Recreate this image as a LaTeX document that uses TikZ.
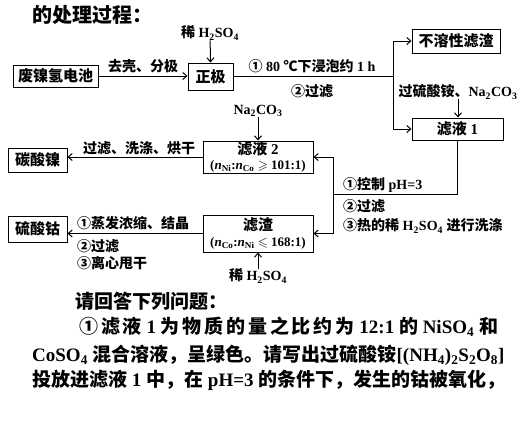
\documentclass[tikz,border=0pt]{standalone}
\usepackage{amssymb}
\usepackage{fontspec}
\setmainfont{Liberation Serif}
\newfontfamily\cjk{Noto Sans CJK SC}
\newfontfamily\cjkls{Noto Sans CJK SC}[LetterSpace=15]
\usetikzlibrary{arrows.meta}
\newcommand\sbs[1]{\textsubscript{#1}}
\newcommand\zh[1]{{\cjk #1}}
\newcommand\zhs[1]{{\cjkls #1}}
\begin{document}
\begin{tikzpicture}[x=1pt,y=-1pt,
  box/.style={draw,line width=1pt,inner sep=0pt,align=center,font=\fontsize{15}{17}\selectfont\bfseries},
  lbl/.style={inner sep=0pt,font=\fontsize{14}{16}\selectfont\bfseries},
  para/.style={inner sep=0pt,anchor=west,font=\fontsize{19}{22}\selectfont\bfseries},
  ln/.style={line width=1pt},
  arr/.style={ln,-{Straight Barb[length=4pt,width=7pt]}}]
\useasboundingbox (0,0) rectangle (524,432);
\node[anchor=west,inner sep=0pt,font=\fontsize{20}{22}\selectfont\bfseries] (title) at (32,15) {\zh{的处理过程：}};
% top row
\node[lbl] (h2a) at (210,33) {\zh{稀} H\sbs{2}SO\sbs{4}};
\node[box,minimum width=85,minimum height=22] (bat) at (55.5,76) {\zh{废镍氢电池}};
\node[box,minimum width=45,minimum height=27] (zj) at (210.5,76.5) {\zh{正极}};
\path (zj.east) ++(160,0) coordinate (br);
\node[box,minimum width=88,minimum height=24] (bx) at (456,41) {\zh{不溶性滤渣}};
\node[box,minimum width=91,minimum height=22] (l1) at (457.5,129) {\zh{滤液} 1};
\node[lbl] (ps) at (458,92) {\zh{过硫酸铵、}Na\sbs{2}CO\sbs{3}};
\draw[arr] (bat.east) -- (bat.east -| zj.west) node[midway,lbl,anchor=south,yshift=3pt] (lq) {\zh{去壳、分极}};
\draw[arr] (h2a) -- (zj.north);
\draw[ln] (zj.east) -- (br);
\node[lbl,anchor=south] (lb1) at (312,73) {\zh{①} 80 \zh{℃下浸泡约} 1 h};
\node[lbl] (lb2) at (312,91) {\zh{②过滤}};
\draw[arr] (br) |- (bx.west);
\draw[arr] (br) |- (l1.west);
\draw[arr] (ps.south) -- (ps.south |- l1.north);
% middle
\node[lbl] (na) at (258,111) {Na\sbs{2}CO\sbs{3}};
\node[box,minimum width=110,minimum height=32] (l2) at (258,157) {\zh{滤液} 2\\[-2pt]{\fontsize{13}{14}\selectfont(\textit{n}\sbs{Ni}:\textit{n}\sbs{Co} $\geqslant$ 101:1)}};
\node[box,minimum width=110,minimum height=37] (lz) at (258,233.5) {\zh{滤渣}\\[-1pt]{\fontsize{13}{14}\selectfont(\textit{n}\sbs{Co}:\textit{n}\sbs{Ni} $\leqslant$ 168:1)}};
\node[lbl] (h2b) at (258,276) {\zh{稀} H\sbs{2}SO\sbs{4}};
\draw[arr] (na) -- (l2.north);
\draw[arr] (h2b) -- (lz.south);
\coordinate (j) at (333,194);
\draw[ln] (l1.south) |- (j);
\draw[ln] (j |- l2.east) -- (j |- lz.east);
\draw[arr] (j |- l2.east) -- (l2.east);
\draw[arr] (j |- lz.east) -- (lz.east);
\node[lbl,anchor=west] (c1) at (343,185) {\zh{①控制} pH=3};
\node[lbl,anchor=west] (c2) at (343,206) {\zh{②过滤}};
\node[lbl,anchor=west] (c3) at (343,226) {\zh{③热的稀} H\sbs{2}SO\sbs{4} \zh{进行洗涤}};
% left
\node[box,minimum width=59,minimum height=24] (tsn) at (37.5,160) {\zh{碳酸镍}};
\node[box,minimum width=59,minimum height=26] (lsg) at (37.5,229) {\zh{硫酸钴}};
\draw[arr] (l2.west) -- (l2.west -| tsn.east);
\node[lbl,anchor=south] (t1) at (139,155) {\zh{过滤、洗涤、烘干}};
\draw[arr] (lz.west) -- (lz.west -| lsg.east);
\node[lbl,anchor=west] (s1) at (77,223) {\zh{①蒸发浓缩、结晶}};
\node[lbl,anchor=west] (s2) at (77,246) {\zh{②过滤}};
\node[lbl,anchor=west] (s3) at (77,263) {\zh{③离心甩干}};
% paragraph
\node[para] (q0) at (75,301) {\zh{请回答下列问题：}};
\node[para] (q1) at (79,327) {\zhs{①滤液} 1 \zhs{为物质的量之比约为} 12:1 \zhs{的} NiSO\sbs{4} \zh{和}};
\node[para] (q2) at (32,355) {CoSO\sbs{4} \zh{混合溶液，呈绿色。请写出过硫酸铵}[(NH\sbs{4})\sbs{2}S\sbs{2}O\sbs{8}]};
\node[para] (q3) at (32,380) {\zh{投放进滤液} 1 \zh{中，在} pH=3 \zh{的条件下，发生的钴被氧化，}};
\end{tikzpicture}
\end{document}
